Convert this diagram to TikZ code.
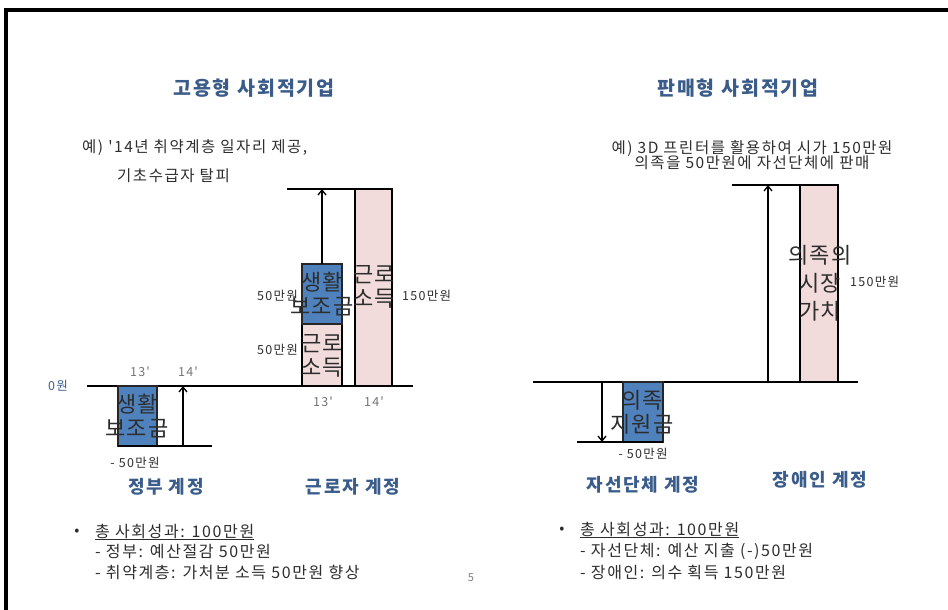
\documentclass[tikz,border=0pt]{standalone}
\usepackage{fontspec}
\setmainfont{Noto Sans CJK KR}
\newfontfamily\kr[LetterSpace=10]{Noto Sans CJK KR}
\newfontfamily\krbar[LetterSpace=4]{Noto Sans CJK KR}
\usetikzlibrary{arrows.meta}
\definecolor{titleblue}{RGB}{58,92,138}
\definecolor{barblue}{RGB}{79,129,189}
\definecolor{barpink}{RGB}{242,220,219}
\definecolor{txt}{RGB}{45,45,45}
\begin{document}
\begin{tikzpicture}[x=1pt,y=-1pt,
  title/.style={font=\kr\bfseries\fontsize{19.5}{21}\selectfont, text=titleblue, inner sep=0},
  acct/.style={font=\kr\bfseries\fontsize{18}{20}\selectfont, text=titleblue, inner sep=0},
  note/.style={font=\kr\fontsize{15.5}{17}\selectfont, text=txt, inner sep=0},
  bul/.style={font=\kr\fontsize{16}{18}\selectfont, text=txt, inner sep=0, anchor=west},
  lbl/.style={font=\kr\fontsize{12.5}{14}\selectfont, text=txt, inner sep=0},
  yr/.style={font=\kr\fontsize{12.5}{14}\selectfont, text=black!55, inner sep=0},
  bartxt/.style={font=\krbar\fontsize{22}{24}\selectfont, text=txt, align=center, inner sep=0},
  bluebar/.style={fill=barblue, draw=black!85, line width=1.2, inner sep=0, outer sep=0, anchor=north west},
  pinkbar/.style={fill=barpink, draw=black, line width=1.3, inner sep=0, outer sep=0, anchor=north west},
  axis/.style={line width=1.4, black},
  arr/.style={line width=1.3, black, -{Straight Barb[length=5,width=8]}}
]
\useasboundingbox (0,0) rectangle (948,610);
% frame
\draw[line width=4] (5.5,610) -- (5.5,10) -- (948,10);

% ===== left: employment type =====
\node[title] (t1) at (254,88) {고용형 사회적기업};
\node[note, anchor=west] (n1a) at (82,148) {예) '14년 취약계층 일자리 제공,};
\node[note, anchor=west] (n1b) at (117,176) {기초수급자 탈피};

\coordinate (lb0) at (87,386);
\coordinate (lb1) at (413,386);
\draw[axis] (lb0) -- (lb1);

% government account
\node[bluebar, minimum width=39, minimum height=60] (gov) at (118,386) {};
\coordinate (gl1) at (212,446);
\draw[axis] (gov.south west) -- (gl1);
\coordinate (ga0) at (183,446);
\coordinate (ga1) at (183,386);
\draw[arr] (ga0) -- (ga1);
\node[bartxt] (govt) at (137,416) {생활\\보조금};
\node[lbl, text=titleblue] (zero) at (58,386) {0원};
\node[yr] (y13a) at (140,372) {13'};
\node[yr] (y14a) at (188,372) {14'};
\node[lbl] (m50a) at (135,463) {- 50만원};

% worker account
\node[pinkbar, minimum width=37, minimum height=197] (wtall) at (355,189) {};
\node[pinkbar, minimum width=40, minimum height=62] (wpink) at (302,324) {};
\node[bluebar, minimum width=40, minimum height=60] (wblue) at (302,264) {};
\coordinate (wt0) at (287,189);
\draw[axis] (wt0) -- (wtall.north east);
\coordinate (wa1) at (322,189);
\draw[arr] (wblue.north) -- (wa1);
\node[bartxt] (wbt) at (322,294) {생활\\보조금};
\node[bartxt] (wpt) at (322,356) {근로\\소득};
\node[bartxt] (wtt) at (374,287) {근로\\소득};
\node[lbl, anchor=east] (w50a) at (298,296) {50만원};
\node[lbl, anchor=east] (w50b) at (298,350) {50만원};
\node[lbl, anchor=west] (w150) at (402,296) {150만원};
\node[yr] (y13b) at (323,402) {13'};
\node[yr] (y14b) at (374,402) {14'};

\node[acct] (gacc) at (166,487) {정부 계정};
\node[acct] (wacc) at (353,487) {근로자 계정};

\node[font=\kr\fontsize{15}{17}\selectfont, text=txt, inner sep=0] (b1) at (77,532) {•};
\node[bul] (b1a) at (95,532) {\underline{총 사회성과: 100만원}};
\node[bul] (b1b) at (95,552) {- 정부: 예산절감 50만원};
\node[bul] (b1c) at (95,572) {- 취약계층: 가처분 소득 50만원 향상};
\node[font=\kr\fontsize{11}{12}\selectfont, text=black!50, inner sep=0] (pg) at (471,578) {5};

% ===== right: sales type =====
\node[title] (t2) at (738,88) {판매형 사회적기업};
\node[note, align=center] (n2) at (752,155) {예) 3D 프린터를 활용하여 시가 150만원\\[-2pt]의족을 50만원에 자선단체에 판매};

\coordinate (rb0) at (533,382);
\coordinate (rb1) at (858,382);
\draw[axis] (rb0) -- (rb1);

% charity account
\node[bluebar, minimum width=40, minimum height=60] (ch) at (623,382) {};
\coordinate (cl0) at (577,442);
\draw[axis] (cl0) -- (ch.south east);
\coordinate (ca0) at (602,382);
\coordinate (ca1) at (602,442);
\draw[arr] (ca0) -- (ca1);
\node[bartxt] (cht) at (642,412) {의족\\지원금};
\node[lbl] (m50b) at (643,454) {- 50만원};

% disabled account
\node[pinkbar, minimum width=38, minimum height=197] (dis) at (800,185) {};
\coordinate (dt0) at (732,185);
\draw[axis] (dt0) -- (dis.north east);
\coordinate (da0) at (768,382);
\coordinate (da1) at (768,185);
\draw[arr] (da0) -- (da1);
\node[bartxt, align=center, font=\krbar\fontsize{22}{28}\selectfont] (dist) at (820,283) {의족의\\시장\\가치};
\node[lbl, anchor=west] (d150) at (850,282) {150만원};

\node[acct] (cacc) at (643,485) {자선단체 계정};
\node[acct] (dacc) at (820,480) {장애인 계정};

\node[font=\kr\fontsize{15}{17}\selectfont, text=txt, inner sep=0] (b2) at (562,530) {•};
\node[bul] (b2a) at (580,530) {\underline{총 사회성과: 100만원}};
\node[bul] (b2b) at (580,551) {- 자선단체: 예산 지출 (-)50만원};
\node[bul] (b2c) at (580,572) {- 장애인: 의수 획득 150만원};
\end{tikzpicture}
\end{document}
